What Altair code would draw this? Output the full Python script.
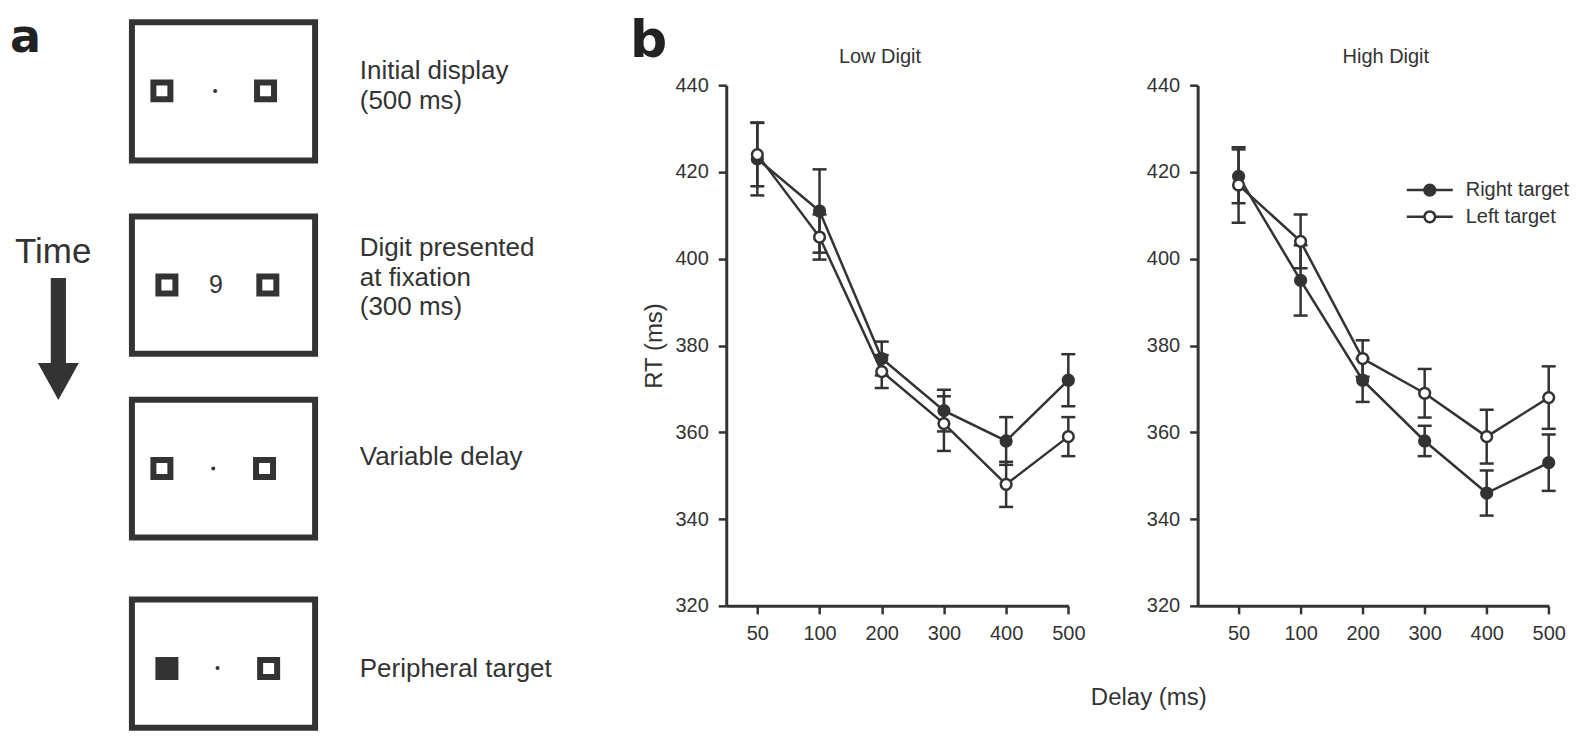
import json
import altair as alt
import pandas as pd

# ---------------- data (panel b) ----------------
delays = ["50", "100", "200", "300", "400", "500"]
series_names = ["Right target", "Left target"]
panel_titles = ["Low Digit", "High Digit"]

low_right = [423, 411, 377, 365, 358, 372]
low_right_sem = [8.4, 9.6, 3.9, 4.8, 5.5, 6.0]
low_left = [424, 405, 374, 362, 348, 359]
low_left_sem = [7.3, 5.2, 3.8, 6.3, 5.2, 4.5]

high_right = [419, 395, 372, 358, 346, 353]
high_right_sem = [6.2, 8.1, 5.0, 3.5, 5.2, 6.5]
high_left = [417, 404, 377, 369, 359, 368]
high_left_sem = [8.7, 6.2, 4.2, 5.6, 6.2, 7.2]

rt_ticks = [320, 340, 360, 380, 400, 420, 440]

# ---------------- text (panel a) ----------------
step_captions = [["Initial display", "(500 ms)"],
                 ["Digit presented", "at fixation", "(300 ms)"],
                 ["Variable delay"],
                 ["Peripheral target"]]
digit_shown = ["9"]
time_label = ["Time"]
panel_letters = ["a", "b"]

# ---------------- styling ----------------
DARK = "#333333"
FONT = "Liberation Sans"
BOLD_FONT = "DejaVu Sans"
H = 521

# ---------------- panel a: schematic layout ----------------
W_A = 590
sx = alt.Scale(domain=[8, 8 + W_A], nice=False, zero=False)
sy = alt.Scale(domain=[85, 85 + H], reverse=True, nice=False, zero=False)

frame_top = [22, 216.3, 399.7, 599.7]
frame_bottom = [160.3, 353.7, 537.7, 728]
frame_left, frame_right = 132, 315.3
ph_left_x = [162, 167, 162, 167]
ph_right_x = [265.7, 268, 264.7, 268.8]
ph_y = [90.7, 285, 468.5, 668.7]
ph_left_fill = ["#ffffff", "#ffffff", "#ffffff", DARK]
fix_x = [215.3, 213.4, 217.7]
fix_y = [90.7, 468.5, 668.3]
caption_first_baseline = [79, 256, 465, 676.7]
caption_line_gap = 29.5

def X(f):
    return alt.X(f, scale=sx, axis=None, title=None)

def Y(f):
    return alt.Y(f, scale=sy, axis=None, title=None)

frames = pd.DataFrame({"x0": [frame_left] * 4, "x1": [frame_right] * 4,
                       "y0": frame_top, "y1": frame_bottom})
frames_l = alt.Chart(frames).mark_rect(filled=False, stroke=DARK, strokeWidth=6).encode(
    x=X("x0:Q"), x2="x1:Q", y=Y("y0:Q"), y2="y1:Q")

sq = pd.DataFrame({"x": ph_left_x + ph_right_x, "y": ph_y + ph_y,
                   "f": ph_left_fill + ["#ffffff"] * 4})
squares_l = alt.Chart(sq).mark_square(size=289, stroke=DARK, strokeWidth=6, opacity=1).encode(
    x=X("x:Q"), y=Y("y:Q"), fill=alt.Fill("f:N", scale=None))

dots_l = alt.Chart(pd.DataFrame({"x": fix_x, "y": fix_y})).mark_circle(
    size=16, color=DARK, opacity=1).encode(x=X("x:Q"), y=Y("y:Q"))

digit_l = alt.Chart(pd.DataFrame({"x": [216], "y": [285], "t": digit_shown})).mark_text(
    font=FONT, fontSize=25, color=DARK, align="center", baseline="middle").encode(
    x=X("x:Q"), y=Y("y:Q"), text="t:N")

cap_rows = []
for k, lines in enumerate(step_captions):
    for j, ln in enumerate(lines):
        cap_rows.append({"x": 360, "y": caption_first_baseline[k] + j * caption_line_gap, "t": ln})
captions_l = alt.Chart(pd.DataFrame(cap_rows)).mark_text(
    font=FONT, fontSize=26, color=DARK, align="left", baseline="alphabetic").encode(
    x=X("x:Q"), y=Y("y:Q"), text="t:N")

time_l = alt.Chart(pd.DataFrame({"x": [15], "y": [263], "t": time_label})).mark_text(
    font=FONT, fontSize=35, color=DARK, align="left", baseline="alphabetic").encode(
    x=X("x:Q"), y=Y("y:Q"), text="t:N")

shaft_l = alt.Chart(pd.DataFrame({"x0": [50.8], "x1": [66], "y0": [278], "y1": [366]})).mark_rect(
    color=DARK).encode(x=X("x0:Q"), x2="x1:Q", y=Y("y0:Q"), y2="y1:Q")

head_l = alt.Chart(pd.DataFrame({"x": [58.4], "y": [381.5]})).mark_point(
    shape="M-1,-0.9L1,-0.9L0,0.9Z", size=1681, filled=True, color=DARK, opacity=1,
    strokeWidth=0).encode(x=X("x:Q"), y=Y("y:Q"))

a_l = alt.Chart(pd.DataFrame({"x": [10], "y": [51.5], "t": [panel_letters[0]]})).mark_text(
    font=BOLD_FONT, fontWeight="bold", fontSize=46, color="#222222", align="left",
    baseline="alphabetic").encode(x=X("x:Q"), y=Y("y:Q"), text="t:N")

anchor_l = alt.Chart(pd.DataFrame({"x0": [8], "x1": [9], "y0": [8], "y1": [9]})).mark_rect(
    opacity=0).encode(x=X("x0:Q"), x2="x1:Q", y=Y("y0:Q"), y2="y1:Q")

panel_a = alt.layer(anchor_l, frames_l, squares_l, dots_l, digit_l, captions_l, time_l,
                    shaft_l, head_l, a_l).properties(width=W_A, height=H)

# ---------------- panel b ----------------
label_expr = json.dumps(delays) + "[datum.value]"
MARK_SIZE = 115

def rt_panel(title, title_x, right, right_sem, left, left_sem, x_lo, width,
             y_title, x_title, extra_layers):
    rows = []
    for s, vals, sems in ((series_names[0], right, right_sem), (series_names[1], left, left_sem)):
        for i, (v, e) in enumerate(zip(vals, sems)):
            rows.append({"i": i, "series": s, "rt": v, "lo": v - e, "hi": v + e})
    df = pd.DataFrame(rows)
    xs = alt.Scale(domain=[x_lo, len(delays) - 1], nice=False, zero=False)
    ys = alt.Scale(domain=[rt_ticks[0], rt_ticks[-1]], nice=False, zero=False)
    xaxis_kw = dict(values=list(range(len(delays))), labelExpr=label_expr,
                    domainColor=DARK, domainWidth=3, tickColor=DARK, tickWidth=2.5, tickSize=8,
                    labelFont=FONT, labelFontSize=20, labelColor=DARK, labelPadding=10,
                    labelFlush=False, labelOverlap=False, grid=False)
    if x_title:
        xaxis_kw.update(title=x_title, titleFont=FONT, titleFontSize=24, titleColor=DARK,
                        titleFontWeight="normal", titleX=422.3, titleY=99,
                        titleBaseline="alphabetic", titleAlign="center")
    else:
        xaxis_kw.update(title=None)
    yaxis_kw = dict(values=rt_ticks, domainColor=DARK, domainWidth=3, tickColor=DARK,
                    tickWidth=2.5, tickSize=8, labelFont=FONT, labelFontSize=20,
                    labelColor=DARK, labelPadding=10, grid=False)
    if y_title:
        yaxis_kw.update(title=y_title, titleFont=FONT, titleFontSize=24, titleColor=DARK,
                        titleFontWeight="normal", titlePadding=8)
    else:
        yaxis_kw.update(title=None)
    x = alt.X("i:Q", scale=xs, axis=alt.Axis(**xaxis_kw))
    y = alt.Y("rt:Q", scale=ys, axis=alt.Axis(**yaxis_kw))
    base = alt.Chart(df)
    rules = base.mark_rule(color=DARK, strokeWidth=2.5).encode(x=x, y=alt.Y("lo:Q"), y2="hi:Q")
    cap_lo = base.mark_tick(orient="horizontal", size=14, thickness=2.5, color=DARK,
                            opacity=1).encode(x=x, y=alt.Y("lo:Q"))
    cap_hi = base.mark_tick(orient="horizontal", size=14, thickness=2.5, color=DARK,
                            opacity=1).encode(x=x, y=alt.Y("hi:Q"))
    lines = base.mark_line(color=DARK, strokeWidth=2.5).encode(x=x, y=y, detail="series:N")
    pts = base.mark_point(filled=True, size=MARK_SIZE, stroke=DARK, strokeWidth=2.5,
                          opacity=1).encode(
        x=x, y=y,
        fill=alt.Fill("series:N", scale=alt.Scale(domain=series_names, range=[DARK, "#ffffff"]),
                      legend=None))
    ttl = alt.Chart(pd.DataFrame({"t": [title]})).mark_text(
        font=FONT, fontSize=20, color=DARK, align="center", baseline="alphabetic").encode(
        x=alt.value(title_x), y=alt.value(-21.7), text="t:N")
    return alt.layer(lines, rules, cap_lo, cap_hi, pts, ttl, *extra_layers).properties(
        width=width, height=H)

b_label = alt.Chart(pd.DataFrame({"t": [panel_letters[1]]})).mark_text(
    font=BOLD_FONT, fontWeight="bold", fontSize=52, color="#222222", align="left",
    baseline="alphabetic").encode(x=alt.value(-96.4), y=alt.value(-28), text="t:N")

legend_layers = []
leg_fill = [DARK, "#ffffff"]
for k, lab in enumerate(series_names):
    yk = 105 + 26.7 * k
    ldf = pd.DataFrame({"t": [lab]})
    legend_layers.append(alt.Chart(ldf).mark_rule(color=DARK, strokeWidth=2.5).encode(
        x=alt.value(209.3), x2=alt.value(255.3), y=alt.value(yk)))
    legend_layers.append(alt.Chart(ldf).mark_point(
        filled=True, size=MARK_SIZE, fill=leg_fill[k], stroke=DARK, strokeWidth=2.5,
        opacity=1).encode(x=alt.value(232.3), y=alt.value(yk)))
    legend_layers.append(alt.Chart(ldf).mark_text(
        font=FONT, fontSize=20, color=DARK, align="left", baseline="middle").encode(
        x=alt.value(268.3), y=alt.value(yk), text="t:N"))

low = rt_panel(panel_titles[0], 153.8, low_right, low_right_sem, low_left, low_left_sem,
               -0.5, 342.3, "RT (ms)", "Delay (ms)", [b_label])
high = rt_panel(panel_titles[1], 188.3, high_right, high_right_sem, high_left, high_left_sem,
                -0.66, 351.3, None, None, legend_layers)

chart = alt.hconcat(panel_a, low, high, spacing=128.7, bounds="flush").properties(
    padding=0).configure_view(stroke=None)

chart.save("out.html", embed_options={"renderer": "svg", "actions": False})
